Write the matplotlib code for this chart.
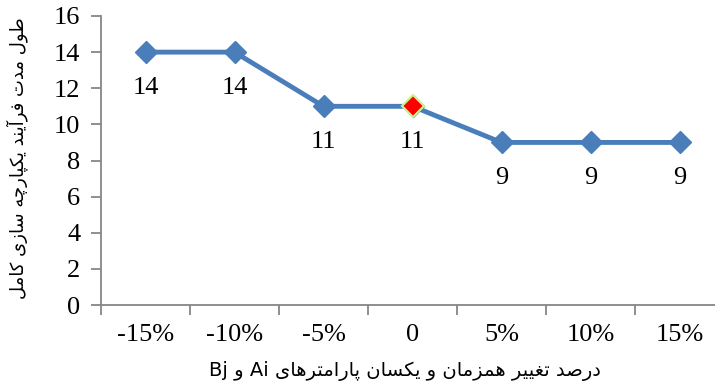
import matplotlib
matplotlib.use("Agg")
import matplotlib.pyplot as plt

# presentation forms: isolated, final, initial, medial
FORMS = {
    "\u0622": ("\uFE81", "\uFE82"),
    "\u0627": ("\uFE8D", "\uFE8E"),
    "\u062A": ("\uFE95", "\uFE96", "\uFE97", "\uFE98"),
    "\u062F": ("\uFEA9", "\uFEAA"),
    "\u0631": ("\uFEAD", "\uFEAE"),
    "\u0632": ("\uFEAF", "\uFEB0"),
    "\u0633": ("\uFEB1", "\uFEB2", "\uFEB3", "\uFEB4"),
    "\u0635": ("\uFEB9", "\uFEBA", "\uFEBB", "\uFEBC"),
    "\u0637": ("\uFEC1", "\uFEC2", "\uFEC3", "\uFEC4"),
    "\u063A": ("\uFECD", "\uFECE", "\uFECF", "\uFED0"),
    "\u0641": ("\uFED1", "\uFED2", "\uFED3", "\uFED4"),
    "\u0644": ("\uFEDD", "\uFEDE", "\uFEDF", "\uFEE0"),
    "\u0645": ("\uFEE1", "\uFEE2", "\uFEE3", "\uFEE4"),
    "\u0646": ("\uFEE5", "\uFEE6", "\uFEE7", "\uFEE8"),
    "\u0647": ("\uFEE9", "\uFEEA", "\uFEEB", "\uFEEC"),
    "\u0648": ("\uFEED", "\uFEEE"),
    "\u06CC": ("\uFBFC", "\uFBFD", "\uFBFE", "\uFBFF"),
    "\u06A9": ("\uFB8E", "\uFB8F", "\uFB90", "\uFB91"),
    "\u067E": ("\uFB56", "\uFB57", "\uFB58", "\uFB59"),
    "\u0686": ("\uFB7A", "\uFB7B", "\uFB7C", "\uFB7D"),
}


def shape_word(word):
    out = []
    for i, ch in enumerate(word):
        if ch not in FORMS:
            out.append(ch)
            continue
        prev = word[i - 1] if i > 0 else None
        nxt = word[i + 1] if i + 1 < len(word) else None
        join_prev = prev in FORMS and len(FORMS[prev]) == 4
        join_next = len(FORMS[ch]) == 4 and nxt in FORMS
        f = FORMS[ch]
        if join_prev and join_next:
            out.append(f[3])
        elif join_prev:
            out.append(f[1])
        elif join_next:
            out.append(f[2])
        else:
            out.append(f[0])
    return "".join(out)


def rtl(text):
    words = []
    for w in text.split(" "):
        if any(c in FORMS for c in w):
            words.append(shape_word(w)[::-1])
        else:
            words.append(w)
    return " ".join(words[::-1])


categories = ["-15%", "-10%", "-5%", "0", "5%", "10%", "15%"]
duration = [14, 14, 11, 11, 9, 9, 9]
base_index = 3

y_title = "طول مدت فرآیند یکپارچه سازی کامل"
x_title = "درصد تغییر همزمان و یکسان پارامترهای Ai و Bj"

plt.rcParams['font.family'] = ['Liberation Serif', 'DejaVu Sans']

fig = plt.figure(figsize=(7.15, 3.85), dpi=100)
ax = fig.add_axes([101 / 715, 1 - 305 / 385, 623 / 715, 289 / 385])

line_color = "#4A7EBB"
axis_color = "#868686"
x = list(range(len(categories)))
ax.plot(x, duration, color=line_color, lw=3.5, marker="D", ms=11,
        mec=line_color, mfc=line_color, zorder=3, solid_capstyle="round")
ax.plot(x[base_index], duration[base_index], marker="D", ms=11,
        mfc="#FF0000", mec="#C8F58C", mew=1.5, zorder=4)

for xi, v in zip(x, duration):
    ax.annotate(str(v), (xi, v), xytext=(0, -18), textcoords="offset points",
                ha="center", va="top", fontsize=19, color="black")

ax.set_xlim(-0.5, len(categories) - 0.5)
ax.set_ylim(0, 16)
ax.set_yticks(range(0, 17, 2))
ax.set_xticks(x)
ax.set_xticklabels(categories)
ax.set_xticks([i - 0.5 for i in range(len(categories) + 1)], minor=True)

for s in ("top", "right"):
    ax.spines[s].set_visible(False)
for s in ("left", "bottom"):
    ax.spines[s].set_color(axis_color)
    ax.spines[s].set_linewidth(1.3)

ax.tick_params(axis="y", direction="out", length=7, width=1.3, color=axis_color,
               labelsize=19, pad=8)
ax.tick_params(axis="x", which="major", length=0, labelsize=19, pad=14)
ax.tick_params(axis="x", which="minor", direction="out", length=7,
               width=1.3, color=axis_color)

fig.text(405 / 715, 1 - 371 / 385, rtl(x_title), ha="center", va="center",
         fontsize=14, family=['DejaVu Sans'])
fig.text(17 / 715, 1 - 158 / 385, rtl(y_title), ha="center", va="center",
         rotation=90, fontsize=13, family=['DejaVu Sans'])

fig.savefig("out.png", dpi=100)
